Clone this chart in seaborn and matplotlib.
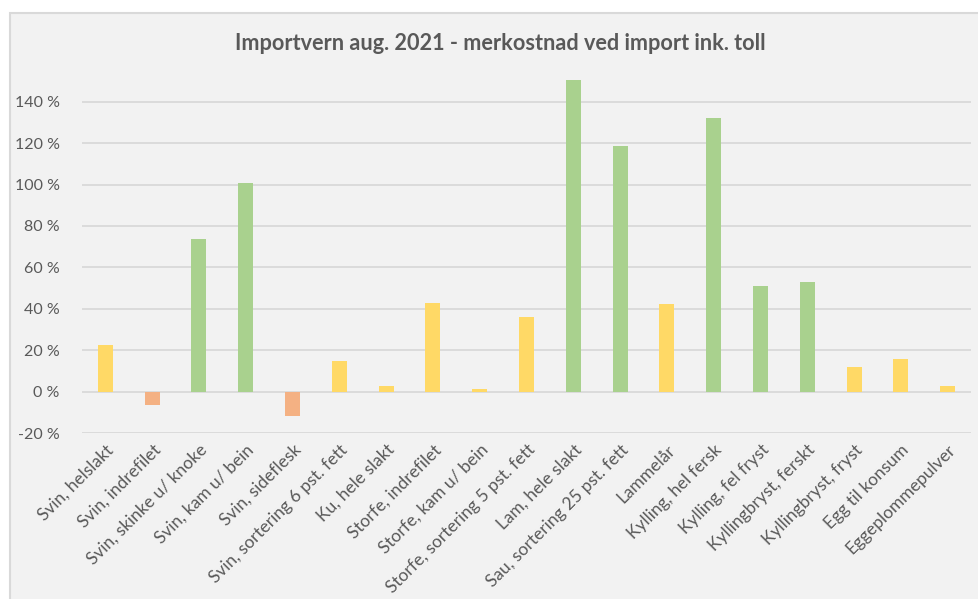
import matplotlib
matplotlib.use("Agg")
import matplotlib.pyplot as plt
from matplotlib.patches import Rectangle
from matplotlib.ticker import FuncFormatter
import pandas as pd
import seaborn as sns

categories = [
    "Svin, helslakt", "Svin, indrefilet", "Svin, skinke u/ knoke", "Svin, kam u/ bein",
    "Svin, sideflesk", "Svin, sortering 6 pst. fett", "Ku, hele slakt", "Storfe, indrefilet",
    "Storfe, kam u/ bein", "Storfe, sortering 5 pst. fett", "Lam, hele slakt",
    "Sau, sortering 25 pst. fett", "Lammelår", "Kylling, hel fersk", "Kylling, fel fryst",
    "Kyllingbryst, ferskt", "Kyllingbryst, fryst", "Egg til konsum", "Eggeplommepulver",
]
values = [0.228, -0.063, 0.735, 1.008, -0.118, 0.151, 0.030, 0.429, 0.016, 0.363,
          1.504, 1.185, 0.425, 1.320, 0.512, 0.530, 0.122, 0.156, 0.026]
groups = ["mid", "neg", "high", "high", "neg", "mid", "mid", "mid", "mid", "mid",
          "high", "high", "mid", "high", "high", "high", "mid", "mid", "mid"]
yticks = [-0.2, 0.0, 0.2, 0.4, 0.6, 0.8, 1.0, 1.2, 1.4]
palette = {"mid": "#FFD966", "neg": "#F4B183", "high": "#A9D18E"}

df = pd.DataFrame({"kategori": categories, "merkostnad": values, "gruppe": groups})

sns.set_theme(style="white")
plt.rcParams["font.family"] = ["Lato", "DejaVu Sans"]

W, H = 979, 599
fig = plt.figure(figsize=(W / 100, H / 100), dpi=100, facecolor="white")

# chart area panel with thin grey border, kept behind the axes
panel = Rectangle((10 / W, -0.01), 1.0, (H - 13) / H + 0.01,
                  transform=fig.transFigure, facecolor="#F2F2F2",
                  edgecolor="#D9D9D9", linewidth=1.5, zorder=-10)
fig.add_artist(panel)

ax = fig.add_axes([82 / W, (H - 433.3) / H, (971 - 82) / W, (433.3 - 70.5) / H])
ax.set_facecolor("none")
ax.set_zorder(1)

sns.barplot(data=df, x="kategori", y="merkostnad", hue="gruppe", palette=palette,
            dodge=False, legend=False, width=0.32, ax=ax, zorder=3,
            edgecolor="none", saturation=1)

ax.set_ylim(-0.2, 1.55)
ax.set_yticks(yticks)
ax.yaxis.set_major_formatter(FuncFormatter(lambda v, _: f"{v * 100:.0f} %"))
ax.grid(axis="y", color="#D9D9D9", linewidth=1.3, zorder=0)
ax.grid(axis="x", visible=False)
ax.set_axisbelow(True)
for s in ax.spines.values():
    s.set_visible(False)
ax.set_xlabel("")
ax.set_ylabel("")
ax.set_xlim(-0.5, len(categories) - 0.5)

ax.tick_params(axis="y", length=0, pad=16, labelsize=11.5, labelcolor="#595959")
ax.tick_params(axis="x", length=0, pad=6, labelsize=12.5, labelcolor="#595959")
for lab in ax.get_xticklabels():
    lab.set_rotation(45)
    lab.set_ha("right")
    lab.set_va("top")
    lab.set_rotation_mode("anchor")

fig.text(500 / W, (H - 43) / H, "Importvern aug. 2021 - merkostnad ved import ink. toll",
         ha="center", va="center", fontsize=15.6, fontweight="bold", color="#595959")

fig.savefig("out.png", dpi=100, facecolor="white")
